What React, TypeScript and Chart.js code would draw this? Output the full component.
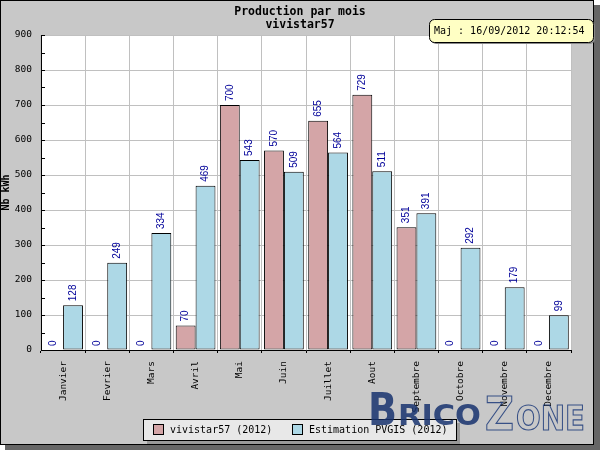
import React, { useEffect, useRef } from "react";
import { Chart, registerables } from "chart.js";

Chart.register(...registerables);

const months = [
  "Janvier", "Fevrier", "Mars", "Avril", "Mai", "Juin",
  "Juillet", "Aout", "Septembre", "Octobre", "Novembre", "Decembre",
];
const production2012 = [0, 0, 0, 70, 700, 570, 655, 729, 351, 0, 0, 0];
const estimation2012 = [128, 249, 334, 469, 543, 509, 564, 511, 391, 292, 179, 99];
const seriesNames = ["vivistar57 (2012)", "Estimation PVGIS (2012)"];
const titleLines = ["Production par mois", "vivistar57"];
const updatedAt = "Maj : 16/09/2012 20:12:54";
const yAxisTitle = "Nb kWh";

const PINK = "#d4a5a7";
const BLUE = "#add8e6";
const PANEL = "#c8c8c8";
const MONO = "'DejaVu Sans Mono', monospace";

const decorPlugin = {
  id: "decor",
  beforeDraw(chart: any) {
    const { ctx, chartArea: a } = chart;
    ctx.save();
    ctx.fillStyle = "#ffffff";
    ctx.fillRect(0, 0, 600, 450);
    // drop shadow of the panel
    ctx.fillStyle = "#666666";
    ctx.fillRect(5, 5, 595, 445);
    ctx.fillStyle = PANEL;
    ctx.fillRect(0, 0, 594, 445);
    ctx.strokeStyle = "#000";
    ctx.lineWidth = 1;
    ctx.strokeRect(0.5, 0.5, 593, 444);
    // plot background
    ctx.fillStyle = "#ffffff";
    ctx.fillRect(a.left, a.top, a.right - a.left, a.bottom - a.top);
    ctx.restore();
  },
  afterDatasetsDraw(chart: any) {
    const { ctx } = chart;
    ctx.save();
    ctx.font = "10px 'Liberation Sans', sans-serif";
    ctx.fillStyle = "#000099";
    ctx.textAlign = "left";
    ctx.textBaseline = "middle";
    chart.data.datasets.forEach((ds: any, di: number) => {
      const meta = chart.getDatasetMeta(di);
      meta.data.forEach((bar: any, i: number) => {
        ctx.save();
        ctx.translate(bar.x, bar.y - 4);
        ctx.rotate(-Math.PI / 2);
        ctx.fillText(String(ds.data[i]), 0, 0);
        ctx.restore();
      });
    });
    ctx.restore();
  },
  afterDraw(chart: any) {
    const { ctx, chartArea: a } = chart;
    const yScale = chart.scales.y;
    ctx.save();

    // inward ticks on the value axis
    ctx.strokeStyle = "#000";
    ctx.lineWidth = 1;
    for (let v = 0; v <= 900; v += 50) {
      const y = Math.round(yScale.getPixelForValue(v)) + 0.5;
      ctx.beginPath();
      ctx.moveTo(a.left, y);
      ctx.lineTo(a.left + 4, y);
      ctx.stroke();
    }

    // title
    ctx.fillStyle = "#000";
    ctx.font = `bold 11.5px ${MONO}`;
    ctx.textAlign = "center";
    ctx.textBaseline = "middle";
    ctx.fillText(titleLines[0], 300, 12);
    ctx.fillText(titleLines[1], 300, 25);

    // update stamp
    const bx = 429, by = 19, bw = 164, bh = 23, r = 5;
    ctx.fillStyle = "#888";
    ctx.beginPath();
    ctx.roundRect(bx + 2, by + 2, bw, bh, r);
    ctx.fill();
    ctx.fillStyle = "#ffffc4";
    ctx.strokeStyle = "#000";
    ctx.beginPath();
    ctx.roundRect(bx + 0.5, by + 0.5, bw, bh, r);
    ctx.fill();
    ctx.stroke();
    ctx.fillStyle = "#000";
    ctx.font = `10px ${MONO}`;
    ctx.textAlign = "left";
    ctx.fillText(updatedAt, 434, by + 12);

    // legend
    const lx = 143, ly = 419, lw = 313, lh = 21;
    ctx.fillStyle = "#999";
    ctx.fillRect(lx + 4, ly + 4, lw, lh);
    ctx.fillStyle = "#e8e8e8";
    ctx.fillRect(lx, ly, lw, lh);
    ctx.strokeStyle = "#000";
    ctx.strokeRect(lx + 0.5, ly + 0.5, lw, lh);
    const items = [
      { x: 153, color: PINK, text: seriesNames[0] },
      { x: 292, color: BLUE, text: seriesNames[1] },
    ];
    ctx.font = `10px ${MONO}`;
    ctx.textBaseline = "middle";
    items.forEach((it) => {
      ctx.fillStyle = it.color;
      ctx.fillRect(it.x, 424, 10, 10);
      ctx.strokeStyle = "#000";
      ctx.strokeRect(it.x + 0.5, 424.5, 10, 10);
      ctx.fillStyle = "#000";
      ctx.fillText(it.text, it.x + 17, 430);
    });

    // site mark
    const drawFit = (text: string, x0: number, x1: number, base: number, size: number, fill: boolean) => {
      ctx.font = `bold ${size}px 'DejaVu Sans', sans-serif`;
      const w = ctx.measureText(text).width;
      ctx.save();
      ctx.translate(x0, base);
      ctx.scale((x1 - x0) / w, 1);
      if (fill) {
        ctx.fillText(text, 0, 0);
      } else {
        ctx.lineWidth = 1.2;
        ctx.strokeText(text, 0, 0);
      }
      ctx.restore();
    };
    ctx.globalAlpha = 0.85;
    ctx.textAlign = "left";
    ctx.textBaseline = "alphabetic";
    ctx.fillStyle = "#17336e";
    ctx.strokeStyle = "#1d3b7a";
    drawFit("B", 368, 397, 425, 44, true);
    drawFit("RICO", 398, 481, 425, 28, true);
    ctx.font = `40px 'DejaVu Sans', sans-serif`;
    drawFit("Z", 485, 514, 430, 47, false);
    drawFit("ONE", 516, 585, 430, 34, false);

    ctx.restore();
  },
};

export default function App() {
  const ref = useRef<HTMLCanvasElement>(null);

  useEffect(() => {
    if (!ref.current) return;
    const chart = new Chart(ref.current, {
      type: "bar",
      data: {
        labels: months,
        datasets: [
          {
            label: seriesNames[0],
            data: production2012,
            backgroundColor: PINK,
            borderColor: "#000",
            borderWidth: 1,
            borderSkipped: false,
          },
          {
            label: seriesNames[1],
            data: estimation2012,
            backgroundColor: BLUE,
            borderColor: "#000",
            borderWidth: 1,
            borderSkipped: false,
          },
        ],
      },
      options: {
        responsive: false,
        animation: false,
        devicePixelRatio: 1,
        layout: { padding: { left: 0, top: 35, right: 29, bottom: 0 } },
        datasets: { bar: { categoryPercentage: 0.9, barPercentage: 1.0 } },
        plugins: {
          legend: { display: false },
          title: { display: false },
          tooltip: { enabled: false },
        },
        scales: {
          x: {
            afterFit: (s: any) => {
              s.height = 100;
            },
            grid: {
              offset: true,
              color: "#c0c0c0",
              tickColor: "#000",
              tickLength: 3,
              lineWidth: 1,
            },
            border: { display: true, color: "#000", width: 1 },
            ticks: {
              autoSkip: false,
              minRotation: 90,
              maxRotation: 90,
              padding: 8,
              color: "#000",
              font: { family: MONO, size: 9.5 },
            },
          },
          y: {
            min: 0,
            max: 900,
            afterFit: (s: any) => {
              s.width = 41;
            },
            grid: { color: "#c0c0c0", drawTicks: false },
            border: { display: true, color: "#000", width: 1 },
            ticks: {
              stepSize: 100,
              padding: 9,
              color: "#000",
              font: { family: MONO, size: 9.5 },
            },
            title: {
              display: true,
              text: yAxisTitle,
              color: "#000",
              padding: 0,
              font: { family: MONO, size: 10, weight: "bold" },
            },
          },
        },
      },
      plugins: [decorPlugin],
    });
    return () => chart.destroy();
  }, []);

  return (
    <div style={{ position: "fixed", left: 0, top: 0, width: 600, height: 450 }}>
      <canvas ref={ref} width={600} height={450} style={{ display: "block" }} />
    </div>
  );
}
